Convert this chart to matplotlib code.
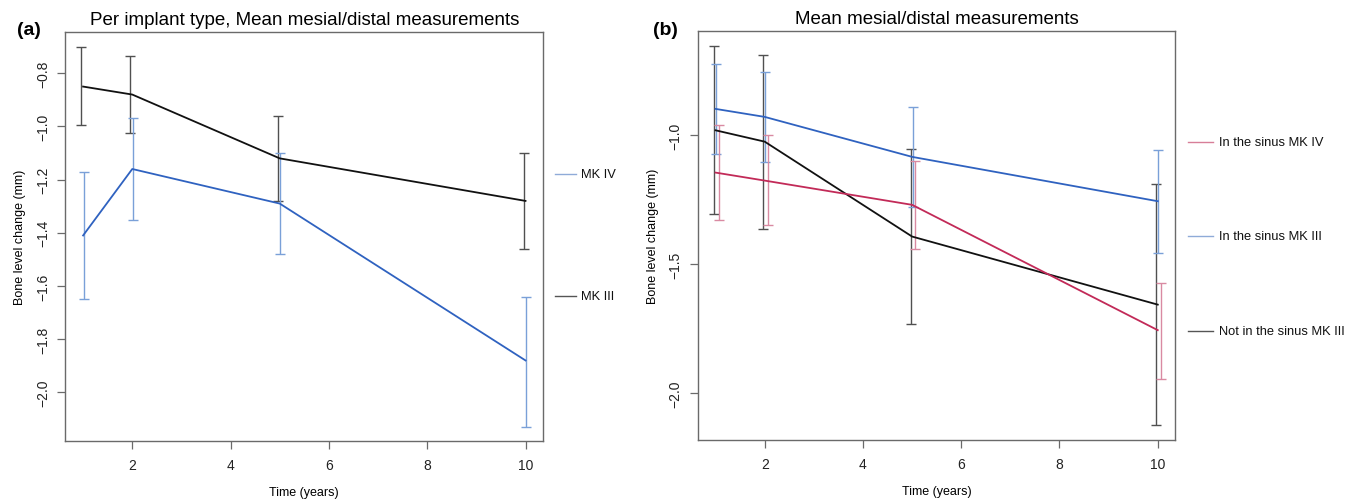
"""Bone level change over time, two panels with error bars."""

import matplotlib
matplotlib.use("Agg")
import matplotlib.pyplot as plt

plt.rcParams['font.family'] = ['Liberation Sans', 'DejaVu Sans']

# ---- data ----
years = [1, 2, 5, 10]

# panel (a): per implant type
a_mk4_mean = [-1.41, -1.16, -1.29, -1.88]
a_mk4_lo = [-1.65, -1.35, -1.48, -2.13]
a_mk4_hi = [-1.17, -0.97, -1.10, -1.64]
a_mk3_mean = [-0.85, -0.88, -1.12, -1.28]
a_mk3_lo = [-0.995, -1.025, -1.28, -1.46]
a_mk3_hi = [-0.70, -0.735, -0.96, -1.10]

# panel (b): sinus / not sinus
b_sin_mk4_mean = [-1.145, -1.176, -1.27, -1.756]
b_sin_mk4_lo = [-1.33, -1.35, -1.44, -1.944]
b_sin_mk4_hi = [-0.96, -1.00, -1.10, -1.574]
b_sin_mk3_mean = [-0.898, -0.929, -1.084, -1.256]
b_sin_mk3_lo = [-1.072, -1.103, -1.277, -1.457]
b_sin_mk3_hi = [-0.722, -0.756, -0.891, -1.057]
b_not_mk3_mean = [-0.981, -1.025, -1.393, -1.657]
b_not_mk3_lo = [-1.304, -1.363, -1.731, -2.123]
b_not_mk3_hi = [-0.655, -0.688, -1.053, -1.188]

a_labels = ['MK IV', 'MK III']
b_labels = ['In the sinus MK IV', 'In the sinus MK III', 'Not in the sinus MK III']

# ---- colours ----
BLUE = '#2f62c0'
BLUE_ERR = '#7aa0d8'
BLUE_LEG = '#8fabd8'
BLACK = '#111111'
BLACK_ERR = '#505050'
BLACK_LEG = '#555555'
RED = '#c22a58'
RED_ERR = '#d98aa2'
RED_LEG = '#d77e98'
FRAME = '#6a6a6a'


def draw_series(ax, mean, lo, hi, col, err_col, dodge):
    xs = [x + dodge for x in years]
    yerr = [[m - l for m, l in zip(mean, lo)], [h - m for m, h in zip(mean, hi)]]
    ax.errorbar(xs, mean, yerr=yerr, fmt='none', ecolor=err_col,
                elinewidth=1.0, capsize=3.4, capthick=1.0, zorder=2)
    ax.plot(years, mean, color=col, lw=1.3, zorder=3)


def style_axes(ax, yticks, ylim):
    ax.set_xlim(0.64, 10.36)
    ax.set_ylim(*ylim)
    ax.set_xticks([2, 4, 6, 8, 10])
    ax.set_yticks(yticks)
    ax.set_yticklabels([f'{t:.1f}'.replace('-', '\u2212') for t in yticks],
                       rotation=90, va='center')
    ax.tick_params(axis='both', length=6, width=0.9, color=FRAME,
                   labelsize=10, labelcolor='#222222', pad=6)
    ax.tick_params(axis='y', pad=5)
    for sp in ax.spines.values():
        sp.set_color(FRAME)
        sp.set_linewidth(1.0)
    ax.set_xlabel('Time (years)', fontsize=9, labelpad=10)
    ax.set_ylabel('Bone level change (mm)', fontsize=9, labelpad=7)


def side_legend(ax, labels, colors, ys, x0, x1, xt, size):
    for lab, c, y in zip(labels, colors, ys):
        ax.plot([x0, x1], [y, y], color=c, lw=1.0,
                transform=ax.transAxes, clip_on=False)
        ax.text(xt, y, lab, transform=ax.transAxes, fontsize=size,
                va='center', ha='left', color='#111111')


fig = plt.figure(figsize=(13.57, 5.02), dpi=100)

# ---- panel (a) ----
ax1 = fig.add_axes([0.0482, 0.1195, 0.3521, 0.8141])
draw_series(ax1, a_mk3_mean, a_mk3_lo, a_mk3_hi, BLACK, BLACK_ERR, -0.04)
draw_series(ax1, a_mk4_mean, a_mk4_lo, a_mk4_hi, BLUE, BLUE_ERR, 0.01)
style_axes(ax1, [-2.0, -1.8, -1.6, -1.4, -1.2, -1.0, -0.8], (-2.183, -0.646))
ax1.set_title('Per implant type, Mean mesial/distal measurements',
              fontsize=13.5, pad=6)
side_legend(ax1, a_labels, [BLUE_LEG, BLACK_LEG], [0.653, 0.3555],
            1.0247, 1.0687, 1.079, 9.3)
fig.text(0.0125, 0.94, '(a)', fontsize=14, fontweight='bold', va='center')

# ---- panel (b) ----
ax2 = fig.add_axes([0.5143, 0.1215, 0.3519, 0.8147])
draw_series(ax2, b_not_mk3_mean, b_not_mk3_lo, b_not_mk3_hi, BLACK, BLACK_ERR, -0.03)
draw_series(ax2, b_sin_mk3_mean, b_sin_mk3_lo, b_sin_mk3_hi, BLUE, BLUE_ERR, 0.01)
draw_series(ax2, b_sin_mk4_mean, b_sin_mk4_lo, b_sin_mk4_hi, RED, RED_ERR, 0.06)
style_axes(ax2, [-2.0, -1.5, -1.0], (-2.182, -0.596))
ax2.set_title('Mean mesial/distal measurements', fontsize=13.5, pad=6)
side_legend(ax2, b_labels, [RED_LEG, BLUE_LEG, BLACK_LEG],
            [0.7286, 0.4988, 0.2665], 1.0264, 1.0788, 1.0914, 9.3)
fig.text(0.481, 0.94, '(b)', fontsize=14, fontweight='bold', va='center')

fig.savefig('out.png', dpi=100)
